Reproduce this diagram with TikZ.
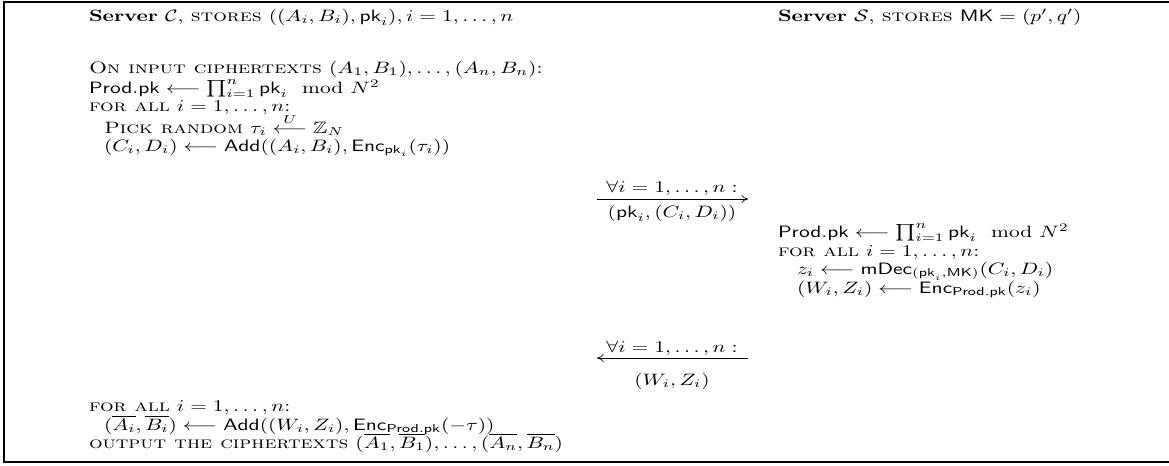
\documentclass[tikz,border=0pt]{standalone}
\usepackage{amsmath,amssymb,graphicx}
\usetikzlibrary{arrows.meta}
\newcommand{\wide}[1]{\scalebox{1.30}[1]{#1}}
\begin{document}
\begin{tikzpicture}[x=0.606pt,y=-0.606pt,
  txt/.style={anchor=base west,inner sep=0pt,outer sep=0pt},
  lbl/.style={anchor=base,inner sep=0pt,outer sep=0pt},
  msg/.style={line width=0.4pt,-{To[length=4pt,width=5pt]}},
  frame/.style={line width=1.5pt}]
\useasboundingbox (0,0) rectangle (1169,465);
\draw[frame] (1172,2) -- (4,2) -- (4,462) -- (1172,462);
% headers
\node[txt] (hdrC) at (89,21) {\wide{\textbf{Server} $\mathcal{C}$, \textsc{stores} $((A_i,B_i),\mathsf{pk}_i), i=1,\ldots,n$}};
\node[txt] (hdrS) at (778,21) {\wide{\textbf{Server} $\mathcal{S}$, \textsc{stores} $\mathsf{MK}=(p',q')$}};
% client part 1
\node[txt] (c1) at (89,73) {\wide{\textsc{On input ciphertexts} $(A_1,B_1),\ldots,(A_n,B_n)$:}};
\node[txt] (c2) at (89,93) {\wide{$\mathsf{Prod.pk}\longleftarrow\prod_{i=1}^n\mathsf{pk}_i\mod N^2$}};
\node[txt] (c3) at (89,111) {\wide{\textsc{for all} $i=1,\ldots,n$:}};
\node[txt] (c4) at (104,133) {\wide{\textsc{Pick random} $\tau_i\stackrel{U}{\longleftarrow}\mathbb{Z}_N$}};
\node[txt] (c5) at (104,151) {\wide{$(C_i,D_i)\longleftarrow\mathsf{Add}((A_i,B_i),\mathsf{Enc}_{\mathsf{pk}_i}(\tau_i))$}};
% message 1
\coordinate (m1l) at (597,199);
\coordinate (m1r) at (748,199);
\node[lbl] (m1t) at (672,192) {\wide{$\forall i=1,\ldots,n:$}};
\node[lbl] (m1b) at (672,217) {\wide{$(\mathsf{pk}_i,(C_i,D_i))$}};
\draw[msg] (m1l) -- (m1r);
% server
\node[txt] (s1) at (778,237) {\wide{$\mathsf{Prod.pk}\longleftarrow\prod_{i=1}^n\mathsf{pk}_i\mod N^2$}};
\node[txt] (s2) at (778,256) {\wide{\textsc{for all} $i=1,\ldots,n$:}};
\node[txt] (s3) at (797,274) {\wide{$z_i\longleftarrow\mathsf{mDec}_{(\mathsf{pk}_i,\mathsf{MK})}(C_i,D_i)$}};
\node[txt] (s4) at (797,293) {\wide{$(W_i,Z_i)\longleftarrow\mathsf{Enc}_{\mathsf{Prod.pk}}(z_i)$}};
% message 2
\coordinate (m2l) at (597,358);
\coordinate (m2r) at (748,358);
\node[lbl] (m2t) at (672,352) {\wide{$\forall i=1,\ldots,n:$}};
\node[lbl] (m2b) at (672,385) {\wide{$(W_i,Z_i)$}};
\draw[msg] (m2r) -- (m2l);
% client part 2
\node[txt] (d1) at (89,411) {\wide{\textsc{for all} $i=1,\ldots,n$:}};
\node[txt] (d2) at (104,430) {\wide{$(\overline{A_i},\overline{B_i})\longleftarrow\mathsf{Add}((W_i,Z_i),\mathsf{Enc}_{\mathsf{Prod.pk}}(-\tau))$}};
\node[txt] (d3) at (89,448) {\wide{\textsc{output the ciphertexts} $(\overline{A_1},\overline{B_1}),\ldots,(\overline{A_n},\overline{B_n})$}};
\end{tikzpicture}
\end{document}
